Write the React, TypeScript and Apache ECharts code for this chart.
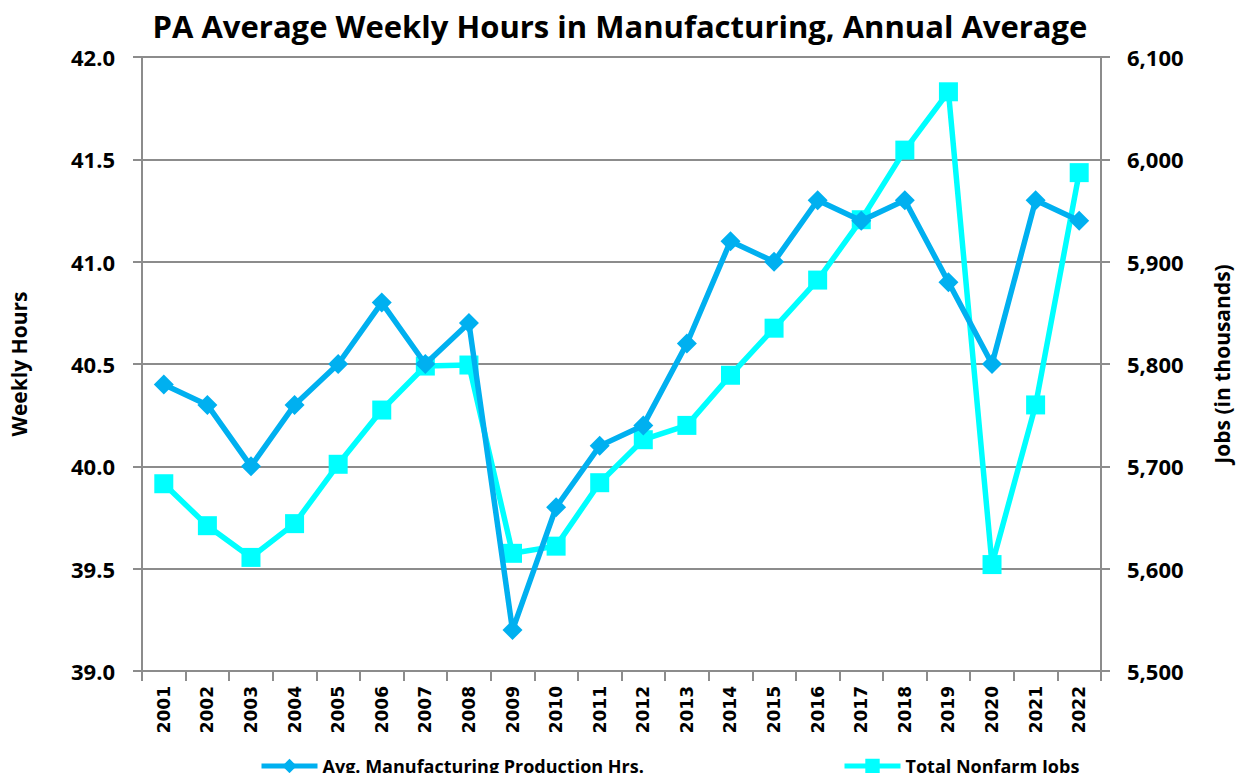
import React, { useEffect, useRef } from "react";
import * as echarts from "echarts";

const years = ["2001","2002","2003","2004","2005","2006","2007","2008","2009","2010","2011","2012","2013","2014","2015","2016","2017","2018","2019","2020","2021","2022"];
const weeklyHours = [40.4,40.3,40.0,40.3,40.5,40.8,40.5,40.7,39.2,39.8,40.1,40.2,40.6,41.1,41.0,41.3,41.2,41.3,40.9,40.5,41.3,41.2];
const nonfarmJobs = [5683,5642,5611,5644,5702,5755,5798,5799,5615,5622,5684,5726,5740,5789,5835,5882,5941,6009,6066,5604,5760,5987];
const hoursName = "Avg. Manufacturing Production Hrs.";
const jobsName = "Total Nonfarm Jobs";

export default function App() {
  const ref = useRef<HTMLDivElement>(null);
  useEffect(() => {
    if (!ref.current) return;
    const chart = echarts.init(ref.current, null, { renderer: "svg" });
    const yLabel = { fontFamily: "Open Sans", fontWeight: "bold", fontSize: 22, color: "#000" };
    const legendText = { fontFamily: "Open Sans", fontWeight: "bold", fontSize: 18, color: "#000" };
    chart.setOption({
      animation: false,
      backgroundColor: "#fff",
      title: {
        text: "PA Average Weekly Hours in Manufacturing, Annual Average",
        left: 615, textAlign: "center", top: 5,
        textStyle: { fontFamily: "Open Sans", fontWeight: "bold", fontSize: 31, color: "#000" },
      },
      legend: [
        { data: [hoursName], left: 259, top: 757, padding: 0, itemWidth: 56, itemHeight: 18, itemGap: 4,
          lineStyle: { width: 5 }, textStyle: legendText },
        { data: [jobsName], left: 842, top: 757, padding: 0, itemWidth: 56, itemHeight: 18,
          lineStyle: { width: 5 }, textStyle: legendText },
      ],
      grid: { left: 137, right: 143, top: 57, bottom: 110 },
      xAxis: {
        type: "category", data: years, boundaryGap: true,
        axisLine: { lineStyle: { color: "#8c8c8c", width: 2 } },
        axisTick: { show: true, length: 10, alignWithLabel: false, lineStyle: { color: "#8c8c8c", width: 2 } },
        axisLabel: { rotate: 90, margin: 15, fontFamily: "DejaVu Sans", fontWeight: "bold", fontSize: 17, color: "#000", interval: 0 },
      },
      yAxis: [
        {
          type: "value", min: 39, max: 42, interval: 0.5, position: "left",
          name: "Weekly Hours", nameLocation: "middle", nameRotate: 90, nameGap: 113,
          nameTextStyle: { fontFamily: "Open Sans", fontWeight: "bold", fontSize: 21, color: "#000" },
          axisLine: { show: true, lineStyle: { color: "#8c8c8c", width: 2 } },
          axisTick: { show: true, length: 9, lineStyle: { color: "#8c8c8c", width: 2 } },
          splitLine: { lineStyle: { color: "#8c8c8c", width: 2 } },
          axisLabel: { ...yLabel, margin: 27, formatter: (v: number) => v.toFixed(1) },
        },
        {
          type: "value", min: 5500, max: 6100, interval: 100, position: "right",
          name: "Jobs (in thousands)", nameLocation: "middle", nameRotate: 90, nameGap: 110,
          nameTextStyle: { fontFamily: "Open Sans", fontWeight: "bold", fontSize: 21, color: "#000" },
          axisLine: { show: true, lineStyle: { color: "#8c8c8c", width: 2 } },
          axisTick: { show: true, length: 9, lineStyle: { color: "#8c8c8c", width: 2 } },
          splitLine: { show: false },
          axisLabel: { ...yLabel, margin: 26, formatter: (v: number) => v.toLocaleString("en-US") },
        },
      ],
      series: [
        {
          name: hoursName, type: "line", yAxisIndex: 0, data: weeklyHours,
          symbol: "diamond", symbolSize: 20,
          lineStyle: { color: "#00B0F0", width: 5.5 },
          itemStyle: { color: "#00B0F0" },
          z: 3,
        },
        {
          name: jobsName, type: "line", yAxisIndex: 1, data: nonfarmJobs,
          symbol: "rect", symbolSize: 19,
          lineStyle: { color: "#00FFFF", width: 5.5 },
          itemStyle: { color: "#00FFFF" },
          z: 2,
        },
      ],
    });
    return () => chart.dispose();
  }, []);
  return <div ref={ref} style={{ width: 1244, height: 781, margin: -8 }} />;
}
